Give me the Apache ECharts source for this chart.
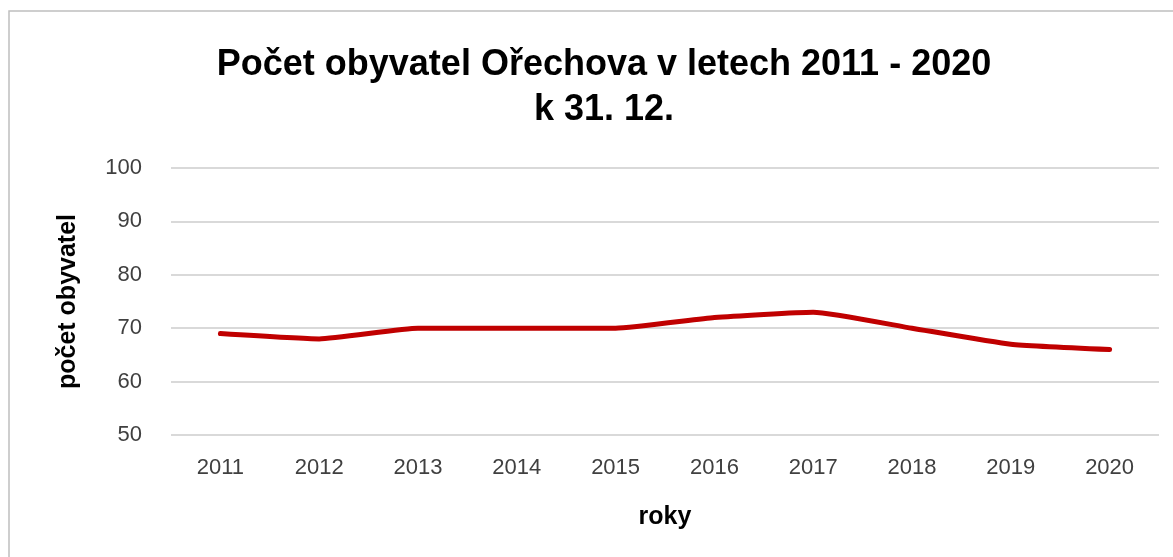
<!DOCTYPE html>
<html>
<head>
<meta charset="utf-8">
<script src="https://cdn.jsdelivr.net/npm/echarts@6/dist/echarts.min.js"></script>
<style>
html,body{margin:0;padding:0;background:#fff;}
#main{width:1173px;height:557px;}
</style>
</head>
<body>
<div id="main"></div>
<script>
var roky = ['2011','2012','2013','2014','2015','2016','2017','2018','2019','2020'];
var obyvatel = [69, 68, 70, 70, 70, 72, 73, 70, 67, 66];
var yMin = 50, yMax = 100, yStep = 10;

var myChart = echarts.init(document.getElementById('main'));
var option = {
    backgroundColor: '#fff',
    title: {
        text: 'Počet obyvatel Ořechova v letech 2011 - 2020\nk 31. 12.',
        left: 599,
        textAlign: 'center',
        top: 38,
        textStyle: {
            fontFamily: 'Liberation Sans',
            fontWeight: 'bold',
            fontSize: 36,
            lineHeight: 45,
            color: '#000'
        }
    },
    graphic: [{
        type: 'rect',
        shape: {x: 9, y: 11, width: 1170, height: 560},
        style: {fill: 'none', stroke: '#bfbfbf', lineWidth: 1.5},
        silent: true
    }],
    grid: {
        left: 171,
        right: 14,
        top: 168,
        bottom: 122
    },
    xAxis: {
        type: 'category',
        data: roky,
        name: 'roky',
        nameLocation: 'middle',
        nameGap: 70,
        nameTextStyle: {fontFamily: 'Liberation Sans', fontWeight: 'bold', fontSize: 25, color: '#000'},
        axisLine: {show: false},
        axisTick: {show: false},
        axisLabel: {fontFamily: 'Liberation Sans', fontSize: 22, color: '#404040', margin: 22}
    },
    yAxis: {
        type: 'value',
        min: yMin,
        max: yMax,
        interval: yStep,
        name: 'počet obyvatel',
        nameLocation: 'middle',
        nameGap: 90,
        nameTextStyle: {fontFamily: 'Liberation Sans', fontWeight: 'bold', fontSize: 25, color: '#000'},
        axisLine: {show: false},
        axisTick: {show: false},
        axisLabel: {fontFamily: 'Liberation Sans', fontSize: 22, color: '#404040', margin: 29},
        splitLine: {lineStyle: {color: '#d9d9d9', width: 2}}
    },
    series: [{
        name: 'počet obyvatel',
        type: 'line',
        data: obyvatel,
        smooth: 0.15,
        symbol: 'none',
        lineStyle: {color: '#c00000', width: 5, cap: 'round'},
        itemStyle: {color: '#c00000'}
    }]
};
myChart.setOption(option);
window.onresize = myChart.resize;
</script>
</body>
</html>
